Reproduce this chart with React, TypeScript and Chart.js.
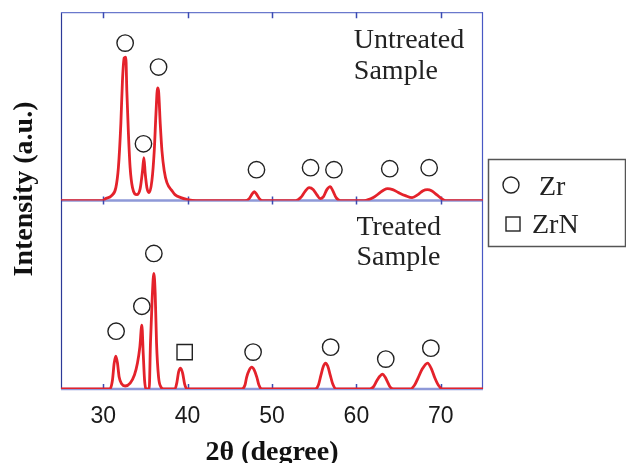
import React, { useEffect, useRef } from 'react';
import { Chart, registerables } from 'chart.js';

Chart.register(...registerables);

// ---- Data ----
// Untreated sample XRD profile: 2θ (degree) and intensity (a.u.)
const untreatedAngle = [
  25, 30.0, 30.2, 31.0, 31.5, 31.8, 32.09, 32.28, 32.48, 32.68, 32.8, 32.99, 33.19, 33.47, 33.99,
  34.38, 34.66, 34.82, 34.98, 35.18, 35.45, 35.77, 36.05, 36.25, 36.44, 36.56, 36.76, 36.96, 37.23,
  37.55, 38.14, 38.5, 39.2, 40.0, 41.0,
  46.8, 47.3, 47.6, 47.9, 48.2, 48.5, 48.9,
  52.8, 53.4, 53.9, 54.4, 54.9, 55.3, 55.7, 56.1, 56.5, 56.9, 57.2, 57.6, 58.1,
  60.9, 62.0, 62.8, 63.3, 63.7, 64.3, 65.0, 65.8, 66.6, 67.3, 67.9, 68.4, 68.9, 69.5, 70.1, 70.6, 75,
];
const untreatedIntensity = [
  0, 0, 1.5, 5, 13, 33, 77, 120, 143, 144, 110, 67, 33, 13, 6,
  12, 30, 43, 27, 13, 8, 20, 50, 87, 113, 110, 77, 50, 30,
  18, 10, 6, 3, 1, 0,
  0, 2, 6, 9, 6, 2, 0,
  0, 3, 9, 13, 11, 6, 2, 4, 11, 14, 10, 3, 0,
  0, 3, 8, 11, 12, 11, 8, 5, 3, 6, 10, 11, 10, 6, 2, 0, 0,
];

// Treated sample XRD profile
const treatedAngle = [
  25, 30.8, 31.1, 31.3, 31.5, 31.69, 31.89, 32.2, 32.6, 33.2, 33.7, 34.06, 34.34, 34.58, 34.74,
  34.9, 35.06, 35.45, 35.6, 35.81, 36.0, 36.16, 36.32, 36.56, 36.84, 37.15,
  38.5, 38.74, 38.93, 39.17, 39.41, 39.65, 39.93,
  46.4, 46.8, 47.0, 47.3, 47.6, 47.9, 48.2, 48.45, 48.8,
  55.1, 55.5, 55.8, 56.1, 56.35, 56.6, 56.9, 57.2, 57.6,
  61.6, 62.0, 62.4, 62.8, 63.1, 63.4, 63.7, 64.0, 64.4,
  66.4, 66.9, 67.3, 67.8, 68.43, 68.9, 69.3, 69.7, 70.2, 75,
];
const treatedIntensity = [
  0, 0, 9, 26, 33, 26, 12, 5, 3, 6, 14, 26, 42, 64, 36,
  9, 0, 0, 46, 92, 116, 96, 46, 12, 2, 0,
  0, 7, 17, 21, 16, 5, 0,
  0, 4, 12, 19, 22, 19, 12, 4, 0,
  0, 4, 14, 23, 26, 23, 14, 5, 0,
  0, 2, 8, 13, 15, 12, 7, 2, 0,
  0, 4, 11, 20, 26, 20, 11, 4, 0, 0,
];

// Phase markers (position of each symbol: 2θ and height in the panel's units)
const untreatedZrAngle = [32.6, 34.77, 36.56, 48.16, 54.57, 57.34, 63.95, 68.62];
const untreatedZrLevel = [158, 57, 134, 31, 33, 31, 32, 33];
const treatedZrAngle = [31.53, 34.58, 36.0, 47.76, 56.95, 63.48, 68.82];
const treatedZrLevel = [58, 83, 136, 37, 42, 30, 41];
const treatedZrNAngle = [39.65];
const treatedZrNLevel = [37];

const xTickValues = [30, 40, 50, 60, 70];
const panelTitles = [['Untreated', 'Sample'], ['Treated', 'Sample']];
const legendLabels = ['Zr', 'ZrN'];
const xAxisTitle = '2θ (degree)';
const yAxisTitle = 'Intensity (a.u.)';

// ---- Styles ----
const RED = '#e4222b';
const MARK = '#222222';
const FRAME = '#3b4bb2';
const BASE = '#8e99d8';
const SERIF = '"Liberation Serif", "Times New Roman", serif';
const SANS = '"Liberation Sans", Arial, sans-serif';

const zip = (xs: number[], ys: number[]) => xs.map((x, i) => ({ x, y: ys[i] }));

const framePlugin = {
  id: 'xrdFrame',
  beforeDatasetsDraw(chart: any) {
    const { ctx, chartArea, scales } = chart;
    const { left, right, top, bottom } = chartArea;
    const xs = scales.x;
    const mid = scales.yU.getPixelForValue(0);
    ctx.save();
    // baselines
    ctx.strokeStyle = BASE;
    ctx.lineWidth = 2.5;
    ctx.beginPath();
    ctx.moveTo(left, mid);
    ctx.lineTo(right, mid);
    ctx.moveTo(left, bottom);
    ctx.lineTo(right, bottom);
    ctx.stroke();
    // frame
    ctx.lineWidth = 1.2;
    ctx.strokeStyle = '#2c3a98';
    ctx.beginPath();
    ctx.moveTo(left + 0.5, top);
    ctx.lineTo(left + 0.5, bottom);
    ctx.stroke();
    ctx.strokeStyle = '#6a78cc';
    ctx.beginPath();
    ctx.moveTo(left, top + 0.5);
    ctx.lineTo(right, top + 0.5);
    ctx.stroke();
    ctx.strokeStyle = '#4858c4';
    ctx.beginPath();
    ctx.moveTo(right - 0.5, top);
    ctx.lineTo(right - 0.5, bottom);
    ctx.stroke();
    // inward ticks
    ctx.strokeStyle = FRAME;
    ctx.lineWidth = 1.5;
    ctx.beginPath();
    for (const t of xs.ticks) {
      const px = Math.round(xs.getPixelForValue(t.value)) + 0.5;
      ctx.moveTo(px, top);
      ctx.lineTo(px, top + 6);
      ctx.moveTo(px, mid - 4);
      ctx.lineTo(px, mid + 4);
      ctx.moveTo(px, bottom);
      ctx.lineTo(px, bottom - 5);
    }
    ctx.stroke();
    ctx.restore();
  },
  afterDraw(chart: any) {
    const { ctx, scales } = chart;
    const xs = scales.x;
    ctx.save();
    ctx.fillStyle = '#222';
    ctx.textBaseline = 'alphabetic';
    ctx.textAlign = 'left';
    ctx.font = `28px ${SERIF}`;
    // panel titles
    const lx = xs.getPixelForValue(59.7);
    ctx.fillText(panelTitles[0][0], lx, scales.yU.getPixelForValue(153.3));
    ctx.fillText(panelTitles[0][1], lx, scales.yU.getPixelForValue(122));
    const lx2 = xs.getPixelForValue(60.0);
    ctx.fillText(panelTitles[1][0], lx2, scales.yT.getPixelForValue(154.7));
    ctx.fillText(panelTitles[1][1], lx2, scales.yT.getPixelForValue(124));

    // y-axis title
    ctx.save();
    ctx.translate(25, 189);
    ctx.rotate(-Math.PI / 2);
    ctx.textAlign = 'center';
    ctx.textBaseline = 'middle';
    ctx.font = `bold 28px ${SERIF}`;
    ctx.fillStyle = '#111';
    ctx.fillText(yAxisTitle, 0, 0);
    ctx.restore();

    // legend box
    ctx.strokeStyle = '#555';
    ctx.lineWidth = 1.5;
    ctx.strokeRect(488.5, 159.5, 137, 87);
    ctx.strokeStyle = MARK;
    ctx.lineWidth = 1.4;
    ctx.beginPath();
    ctx.arc(511, 185, 8, 0, Math.PI * 2);
    ctx.stroke();
    ctx.strokeRect(506, 217, 14, 14);
    ctx.fillStyle = '#222';
    ctx.font = `28px ${SERIF}`;
    ctx.fillText(legendLabels[0], 539, 195);
    ctx.fillText(legendLabels[1], 532, 233);
    ctx.restore();
  },
};

export default function App() {
  const ref = useRef<HTMLCanvasElement | null>(null);
  useEffect(() => {
    if (!ref.current) return;
    const markerBase = {
      showLine: false,
      borderColor: MARK,
      backgroundColor: 'rgba(0,0,0,0)',
      borderWidth: 1.4,
      pointHoverRadius: 8,
    };
    const chart = new Chart(ref.current, {
      type: 'line',
      data: {
        datasets: [
          {
            label: 'Untreated',
            data: zip(untreatedAngle, untreatedIntensity),
            yAxisID: 'yU',
            borderColor: RED,
            borderWidth: 2.8,
            pointRadius: 0,
            cubicInterpolationMode: 'monotone',
            fill: false,
          },
          {
            label: 'Treated',
            data: zip(treatedAngle, treatedIntensity),
            yAxisID: 'yT',
            borderColor: RED,
            borderWidth: 2.8,
            pointRadius: 0,
            cubicInterpolationMode: 'monotone',
            fill: false,
          },
          {
            ...markerBase,
            label: 'Zr (untreated)',
            data: zip(untreatedZrAngle, untreatedZrLevel),
            yAxisID: 'yU',
            pointStyle: 'circle',
            pointRadius: 8.2,
          },
          {
            ...markerBase,
            label: 'Zr (treated)',
            data: zip(treatedZrAngle, treatedZrLevel),
            yAxisID: 'yT',
            pointStyle: 'circle',
            pointRadius: 8.2,
          },
          {
            ...markerBase,
            label: 'ZrN (treated)',
            data: zip(treatedZrNAngle, treatedZrNLevel),
            yAxisID: 'yT',
            pointStyle: 'rect',
            pointRadius: 10.8,
          },
        ],
      } as any,
      options: {
        animation: false,
        responsive: false,
        events: [],
        layout: { padding: { top: 11, right: 143, bottom: 0, left: 0 } },
        plugins: { legend: { display: false }, tooltip: { enabled: false } },
        scales: {
          x: {
            type: 'linear',
            min: 25,
            max: 75,
            afterBuildTicks: (s: any) => {
              s.ticks = xTickValues.map((v) => ({ value: v }));
            },
            afterFit: (s: any) => {
              s.height = 74;
            },
            grid: { display: false, drawTicks: false },
            border: { display: false },
            ticks: {
              padding: 14,
              autoSkip: false,
              maxRotation: 0,
              color: '#1a1a1a',
              font: { family: SANS, size: 23 },
            },
            title: {
              display: true,
              text: xAxisTitle,
              color: '#111',
              padding: 0,
              font: { family: SERIF, size: 28, weight: 'bold', lineHeight: 0.75 },
            },
          },
          yT: {
            type: 'linear',
            position: 'left',
            stack: 'xrd',
            stackWeight: 1,
            weight: 1,
            min: 0,
            max: 189,
            ticks: { display: false },
            grid: { display: false, drawTicks: false },
            border: { display: false },
            afterFit: (s: any) => {
              s.width = 61;
            },
          },
          yU: {
            type: 'linear',
            position: 'left',
            stack: 'xrd',
            stackWeight: 1,
            weight: 2,
            min: 0,
            max: 189,
            ticks: { display: false },
            grid: { display: false, drawTicks: false },
            border: { display: false },
            afterFit: (s: any) => {
              s.width = 61;
            },
          },
        },
      } as any,
      plugins: [framePlugin],
    });
    return () => chart.destroy();
  }, []);

  return (
    <div style={{ position: 'fixed', left: 0, top: 0, width: 626, height: 463, background: '#fff' }}>
      <canvas ref={ref} width={626} height={463} style={{ display: 'block' }} />
    </div>
  );
}
